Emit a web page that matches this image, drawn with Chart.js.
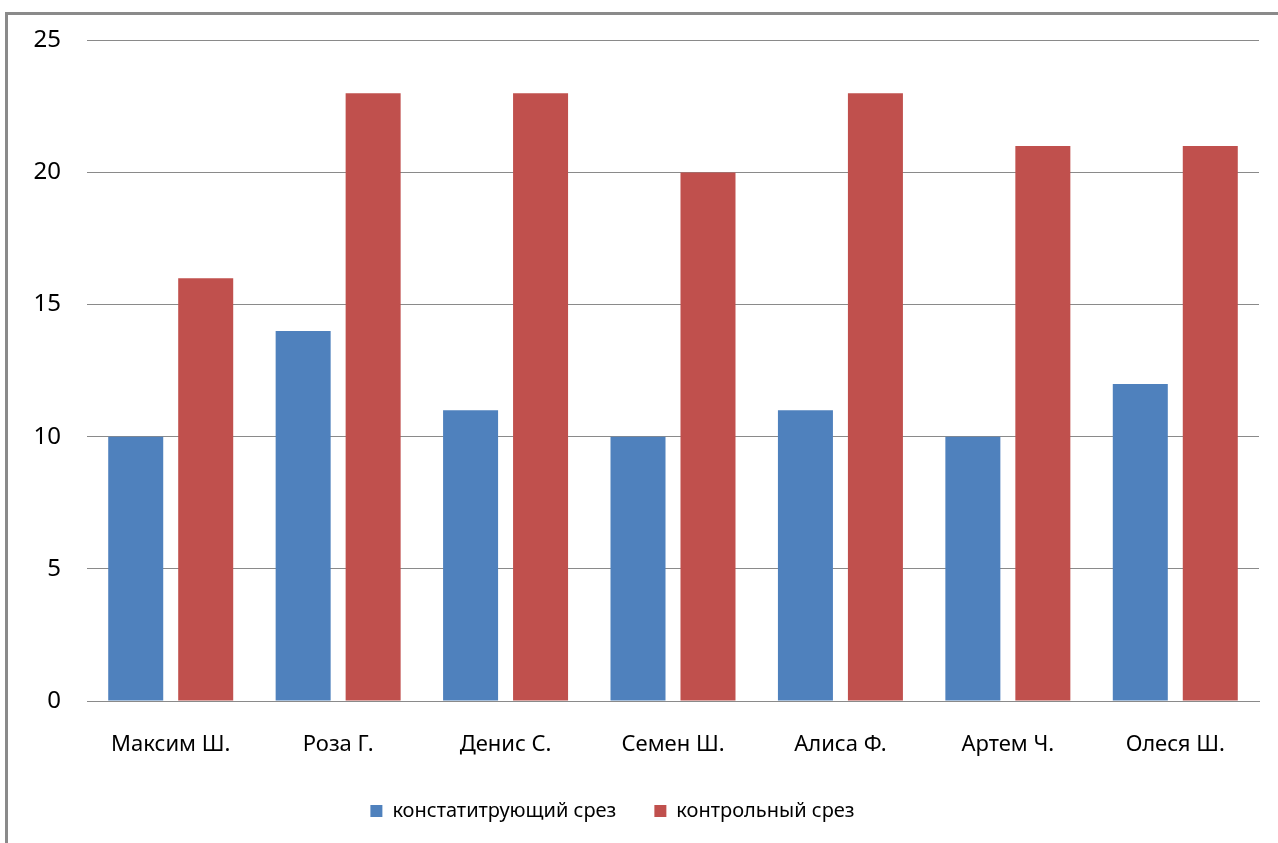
<!DOCTYPE html>
<html lang="ru">
<head>
    <meta charset="UTF-8">
    <title>Срезы</title>
    <script src="https://cdn.jsdelivr.net/npm/chart.js"></script>
    <style>
        body { margin: 0; background: #fff; overflow: hidden; }
        #frame { position: absolute; left: 5px; top: 12px; width: 1400px; height: 900px;
                 border-left: 3px solid #8a8a8a; border-top: 3px solid #8a8a8a; }
        #wrap { position: absolute; left: 0; top: 0; width: 1278px; height: 843px; }
    </style>
</head>
<body>
    <div id="frame"></div>
    <div id="wrap">
        <canvas id="chart"></canvas>
    </div>

    <script>
        // names of pupils and their scores
        const names = ['Максим Ш.', 'Роза Г.', 'Денис С.', 'Семен Ш.', 'Алиса Ф.', 'Артем Ч.', 'Олеся Ш.'];
        const firstTest = [10, 14, 11, 10, 11, 10, 12];
        const controlTest = [16, 23, 23, 20, 23, 21, 21];
        const yTicks = [0, 5, 10, 15, 20, 25];

        const font = "'Noto Sans', 'DejaVu Sans', sans-serif";

        // legend in the original is a bit left of centre
        const shiftLegend = {
            id: 'shiftLegend',
            afterLayout(chart) {
                chart.legend.left -= 27;
                chart.legend.right -= 27;
            }
        };

        var ctx = document.getElementById('chart').getContext('2d');
        var chart = new Chart(ctx, {
            type: 'bar',
            data: {
                labels: names,
                datasets: [{
                    label: 'констатитрующий срез',
                    data: firstTest,
                    backgroundColor: '#4F81BD',
                    categoryPercentage: 0.836,
                    barPercentage: 0.786
                }, {
                    label: 'контрольный срез',
                    data: controlTest,
                    backgroundColor: '#C0504D',
                    categoryPercentage: 0.836,
                    barPercentage: 0.786
                }]
            },
            options: {
                responsive: true,
                maintainAspectRatio: false,
                animation: false,
                layout: { padding: { left: 20, right: 19, top: 40, bottom: 12 } },
                plugins: {
                    tooltip: { enabled: false },
                    legend: {
                        position: 'bottom',
                        labels: {
                            boxWidth: 12,
                            boxHeight: 12,
                            padding: 38,
                            color: '#000',
                            font: { family: font, size: 20 }
                        }
                    }
                },
                scales: {
                    x: {
                        grid: { display: false },
                        border: { color: '#8a8a8a', width: 1 },
                        ticks: { color: '#000', padding: 23, font: { family: font, size: 22 } },
                        afterFit: s => { s.height = 62; }
                    },
                    y: {
                        min: 0,
                        max: 25,
                        afterBuildTicks: s => { s.ticks = yTicks.map(v => ({ value: v })); },
                        grid: { color: '#8a8a8a', drawTicks: false },
                        border: { display: false },
                        ticks: { color: '#000', padding: 26, font: { family: font, size: 24 } },
                        afterFit: s => { s.width = 67; }
                    }
                }
            },
            plugins: [shiftLegend]
        });
    </script>
</body>
</html>
